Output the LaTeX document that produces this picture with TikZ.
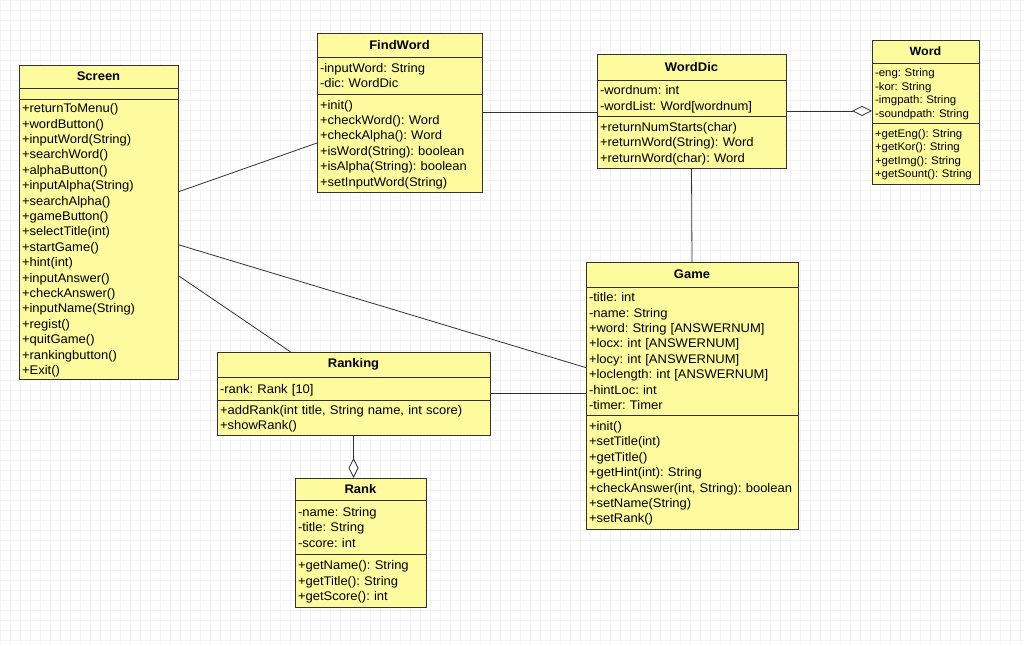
\documentclass[tikz,border=0pt]{standalone}
\usepackage{fontspec}
\setmainfont[FakeStretch=1.04]{Liberation Sans}
\usetikzlibrary{arrows.meta,positioning,calc}
\definecolor{umlfill}{RGB}{253,251,158}
\definecolor{umlline}{RGB}{50,50,50}
\definecolor{gridgray}{RGB}{243,243,243}
\newcommand{\umlfont}{\fontsize{12.5}{15.4}\selectfont}
\newcommand{\umlsmall}{\fontsize{11}{13.6}\selectfont}
\newcommand{\umlstrut}{\rule[-0.2\baselineskip]{0pt}{\baselineskip}}
\frenchspacing
\tikzset{
  umlbox/.style={draw=umlline, fill=umlfill, line width=0.8pt, outer sep=0pt, inner sep=0pt, anchor=north west, minimum width=#1, font=\umlfont},
  umlhead/.style={umlbox=#1, font=\umlfont\bfseries},
  umlpart/.style={umlbox=#1, inner xsep=3pt, align=left, text width=#1-6pt, execute at begin node=\umlstrut, execute at end node=\umlstrut},
  assoc/.style={draw=umlline, line width=0.8pt},
  aggr/.style={assoc, -{Diamond[fill=white, length=20pt, width=10pt]}}
}

\begin{document}
\begin{tikzpicture}[x=1pt, y=-1pt]
  \useasboundingbox (0,0) rectangle (1024,645);
  \fill[white] (0,0) rectangle (1024,645);
  \draw[gridgray, line width=0.5pt, step=10pt] (0,0) grid (1024,645);

  % Screen
  \node[umlhead=159pt, minimum height=23pt] (screen-h) at (19,65) {Screen};
  \node[umlbox=159pt, minimum height=11pt] (screen-a) at (screen-h.south west) {};
  \node[umlpart=159pt, minimum height=280pt] (screen-m) at (screen-a.south west) {+returnToMenu()\\+wordButton()\\+inputWord(String)\\+searchWord()\\+alphaButton()\\+inputAlpha(String)\\+searchAlpha()\\+gameButton()\\+selectTitle(int)\\+startGame()\\+hint(int)\\+inputAnswer()\\+checkAnswer()\\+inputName(String)\\+regist()\\+quitGame()\\+rankingbutton()\\+Exit()};

  % FindWord
  \node[umlhead=165pt, minimum height=24pt] (findword-h) at (317,33) {FindWord};
  \node[umlpart=165pt, minimum height=37pt] (findword-a) at (findword-h.south west) {-inputWord: String\\-dic: WordDic};
  \node[umlpart=165pt, minimum height=98pt] (findword-m) at (findword-a.south west) {+init()\\+checkWord(): Word\\+checkAlpha(): Word\\+isWord(String): boolean\\+isAlpha(String): boolean\\+setInputWord(String)};

  % WordDic
  \node[umlhead=189pt, minimum height=26pt] (worddic-h) at (597,54) {WordDic};
  \node[umlpart=189pt, minimum height=36pt] (worddic-a) at (worddic-h.south west) {-wordnum: int\\-wordList: Word[wordnum]};
  \node[umlpart=189pt, minimum height=52pt] (worddic-m) at (worddic-a.south west) {+returnNumStarts(char)\\+returnWord(String): Word\\+returnWord(char): Word};

  % Word
  \node[umlhead=107pt, minimum height=23pt, font=\fontsize{12}{14}\selectfont\bfseries] (word-h) at (872,40) {Word};
  \node[umlpart=107pt, minimum height=60pt, font=\umlsmall] (word-a) at (word-h.south west) {-eng: String\\-kor: String\\-imgpath: String\\-soundpath: String};
  \node[umlpart=107pt, minimum height=61pt, font=\umlsmall] (word-m) at (word-a.south west) {+getEng(): String\\+getKor(): String\\+getImg(): String\\+getSount(): String};

  % Game
  \node[umlhead=212pt, minimum height=25pt] (game-h) at (586,262) {Game};
  \node[umlpart=212pt, minimum height=128pt] (game-a) at (game-h.south west) {-title: int\\-name: String\\+word: String [ANSWERNUM]\\+locx: int [ANSWERNUM]\\+locy: int [ANSWERNUM]\\+loclength: int [ANSWERNUM]\\-hintLoc: int\\-timer: Timer};
  \node[umlpart=212pt, minimum height=114pt] (game-m) at (game-a.south west) {+init()\\+setTitle(int)\\+getTitle()\\+getHint(int): String\\+checkAnswer(int, String): boolean\\+setName(String)\\+setRank()};

  % Ranking
  \node[umlhead=273pt, minimum height=25pt] (ranking-h) at (217,352) {Ranking};
  \node[umlpart=273pt, minimum height=23pt] (ranking-a) at (ranking-h.south west) {-rank: Rank [10]};
  \node[umlpart=273pt, minimum height=35pt] (ranking-m) at (ranking-a.south west) {+addRank(int title, String name, int score)\\+showRank()};

  % Rank
  \node[umlhead=131pt, minimum height=22pt] (rank-h) at (295,478) {Rank};
  \node[umlpart=131pt, minimum height=54pt] (rank-a) at (rank-h.south west) {-name: String\\-title: String\\-score: int};
  \node[umlpart=131pt, minimum height=53pt] (rank-m) at (rank-a.south west) {+getName(): String\\+getTitle(): String\\+getScore(): int};

  % associations
  \draw[assoc] ($(screen-m.north east)!0.332!(screen-m.south east)$) -- (findword-m.west);
  \draw[assoc] ($(worddic-a.north west)!0.89!(worddic-a.south west)$) coordinate (wd-in) -- (wd-in -| findword-m.east);
  \draw[aggr] ($(worddic-a.north east)!0.86!(worddic-a.south east)$) coordinate (wd-out) -- (wd-out -| word-a.west);
  \draw[assoc] (worddic-m.south) -- (game-h.north);
  \draw[assoc] ($(screen-m.north east)!0.52!(screen-m.south east)$) -- ($(game-a.north west)!0.63!(game-a.south west)$);
  \draw[assoc] ($(screen-m.north east)!0.63!(screen-m.south east)$) -- ($(ranking-h.north west)!0.27!(ranking-h.north east)$);
  \draw[assoc] ($(ranking-a.north east)!0.7!(ranking-a.south east)$) coordinate (rk-out) -- (rk-out -| game-a.west);
  \draw[aggr] (ranking-m.south) -- (ranking-m.south |- rank-h.north);
\end{tikzpicture}
\end{document}
